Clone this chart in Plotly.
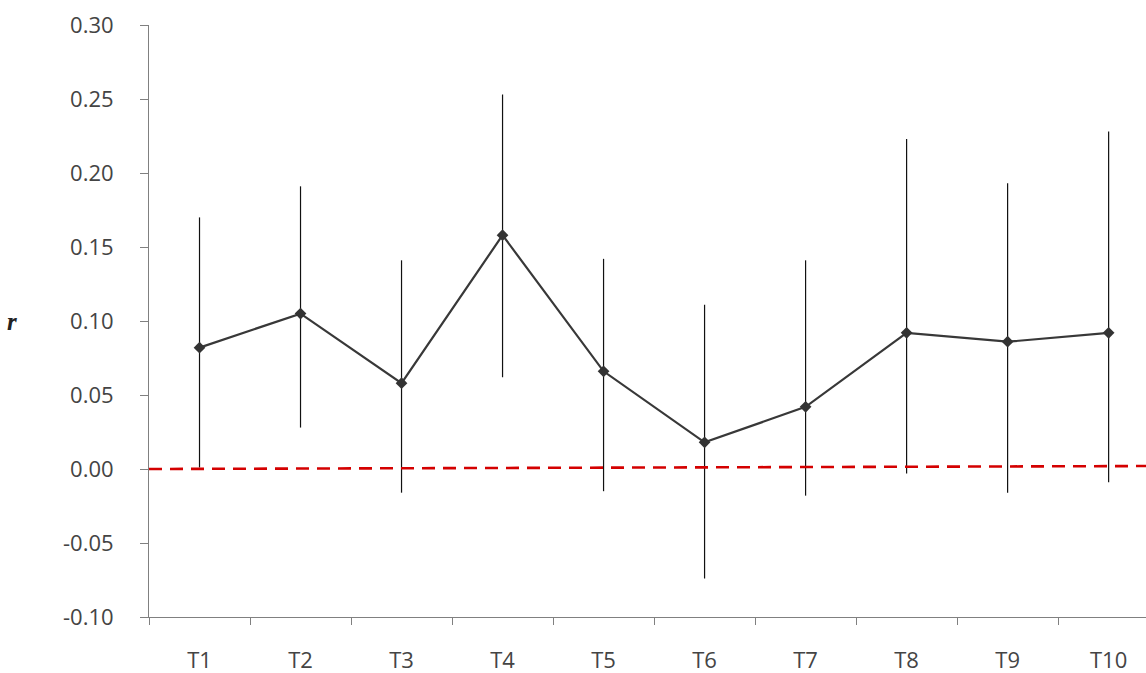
import plotly.graph_objects as go

categories = ["T1", "T2", "T3", "T4", "T5", "T6", "T7", "T8", "T9", "T10"]
r_values = [0.082, 0.105, 0.058, 0.158, 0.066, 0.018, 0.042, 0.092, 0.086, 0.092]
upper_ci = [0.170, 0.191, 0.141, 0.253, 0.142, 0.111, 0.141, 0.223, 0.193, 0.228]
lower_ci = [0.001, 0.028, -0.016, 0.062, -0.015, -0.074, -0.018, -0.003, -0.016, -0.009]
ref_line = [0.0, 0.002]
y_ticks = [-0.10, -0.05, 0.00, 0.05, 0.10, 0.15, 0.20, 0.25, 0.30]
y_tick_labels = ["-0.10", "-0.05", "0.00", "0.05", "0.10", "0.15", "0.20", "0.25", "0.30"]

err_plus = [u - v for u, v in zip(upper_ci, r_values)]
err_minus = [v - l for v, l in zip(r_values, lower_ci)]

fig = go.Figure()
fig.add_trace(go.Scatter(
    x=categories, y=r_values, mode="lines+markers",
    line=dict(color="#383838", width=2.2),
    marker=dict(symbol="diamond", size=9, color="#333333"),
    error_y=dict(type="data", array=err_plus, arrayminus=err_minus,
                 width=0, thickness=1.2, color="#111111"),
    showlegend=False,
))

fig.add_shape(type="line", xref="x domain", yref="y",
              x0=0, x1=1, y0=ref_line[0], y1=ref_line[1],
              line=dict(color="#d40000", width=2.6, dash="13px,8px"))

fig.add_annotation(text="<b><i>r</i></b>", xref="paper", yref="y", x=-0.137, y=0.10,
                   showarrow=False, xanchor="center", yanchor="middle",
                   font=dict(family="Liberation Serif", size=25, color="#222222"))

fig.update_layout(
    width=1146, height=673,
    margin=dict(l=149, r=0, t=25, b=56),
    plot_bgcolor="white", paper_bgcolor="white",
    font=dict(family="Open Sans", size=22, color="#444444"),
    xaxis=dict(
        type="category", range=[-0.5, 9.37], tickson="boundaries",
        showgrid=False, zeroline=False, showline=True, linecolor="#808080", linewidth=1,
        ticks="outside", ticklen=7, tickcolor="#808080", ticklabelstandoff=24,
    ),
    yaxis=dict(
        range=[-0.10, 0.30], tickvals=y_ticks, ticktext=y_tick_labels,
        showgrid=False, zeroline=False, showline=True, linecolor="#808080", linewidth=1,
        ticks="outside", ticklen=8, tickcolor="#808080", ticklabelstandoff=22,
    ),
)

fig.write_html("out.html")
